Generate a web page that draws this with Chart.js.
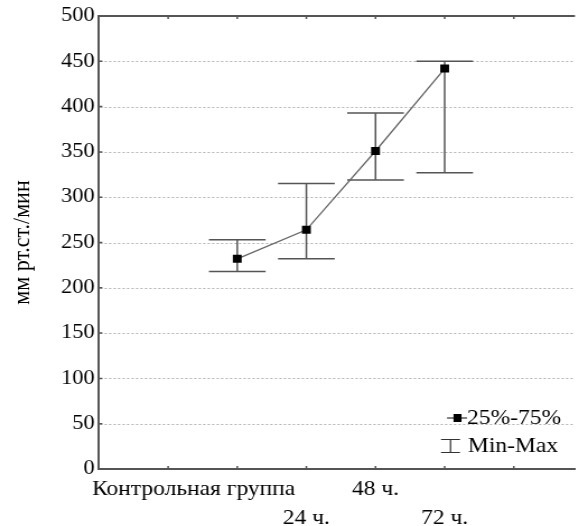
<!DOCTYPE html>
<html>
<head>
<meta charset="utf-8">
<script src="https://cdn.jsdelivr.net/npm/chart.js@4.4.1/dist/chart.umd.min.js"></script>
<style>
  html, body { margin: 0; padding: 0; background: #fff; overflow: hidden; }
  #wrap { width: 519px; height: 526px; transform: scaleX(1.12); transform-origin: 0 0; }
</style>
</head>
<body>
<div id="wrap"><canvas id="chart" width="519" height="526"></canvas></div>
<script>
// данные (медиана, минимум, максимум)
const categories = ['Контрольная группа', '24 ч.', '48 ч.', '72 ч.'];
const categoryPos = [2, 3, 4, 5];
const medians = [232, 264, 351, 442];
const minVals = [218, 232, 319, 327];
const maxVals = [253, 315, 393, 450];
const yTicks = [0, 50, 100, 150, 200, 250, 300, 350, 400, 450, 500];
const legendLabels = ['25%-75%', 'Min-Max'];

const S = 1.12; // горизонтальное растяжение исходной картинки
const FONT = '"Liberation Serif", "Times New Roman", serif';
const AXIS = '#555';

const frame = {
  id: 'frame',
  beforeDatasetsDraw(chart) {
    const { ctx, chartArea: a, scales: { x, y } } = chart;
    // пунктирная сетка
    ctx.save();
    ctx.strokeStyle = '#b4b4b4';
    ctx.lineWidth = 1;
    ctx.setLineDash([2, 2]);
    ctx.beginPath();
    yTicks.slice(1, -1).forEach(v => {
      const py = Math.round(y.getPixelForValue(v)) + 0.5;
      ctx.moveTo(a.left + 1, py); ctx.lineTo(a.right, py);
    });
    ctx.stroke();
    ctx.setLineDash([]);
    // усы min-max
    ctx.strokeStyle = '#555';
    ctx.lineWidth = 1.5;
    categoryPos.forEach((p, i) => {
      const cx = x.getPixelForValue(p);
      const l = x.getPixelForValue(p - 0.41), r = x.getPixelForValue(p + 0.41);
      const top = y.getPixelForValue(maxVals[i]), bot = y.getPixelForValue(minVals[i]);
      ctx.beginPath();
      ctx.moveTo(cx, top); ctx.lineTo(cx, bot);
      ctx.moveTo(l, top); ctx.lineTo(r, top);
      ctx.moveTo(l, bot); ctx.lineTo(r, bot);
      ctx.stroke();
    });
    ctx.restore();
  },
  afterDraw(chart) {
    const { ctx, chartArea: a, scales: { x, y } } = chart;
    ctx.save();
    // верхняя рамка и засечки внутрь
    ctx.strokeStyle = AXIS;
    ctx.lineWidth = 2;
    ctx.beginPath();
    ctx.moveTo(a.left - 1, a.top); ctx.lineTo(a.right, a.top);
    ctx.stroke();
    ctx.lineWidth = 1.5;
    ctx.beginPath();
    for (let t = 1; t <= 6; t++) {
      const px = x.getPixelForValue(t);
      ctx.moveTo(px, a.bottom); ctx.lineTo(px, a.bottom - 3);
      ctx.moveTo(px, a.top); ctx.lineTo(px, a.top + 3);
    }
    yTicks.slice(1, -1).forEach(v => {
      const py = y.getPixelForValue(v);
      ctx.moveTo(a.left, py); ctx.lineTo(a.left + 3, py);
    });
    ctx.stroke();

    // подписи категорий в два ряда
    ctx.fillStyle = '#000';
    ctx.font = '21px ' + FONT;
    ctx.textBaseline = 'middle';
    categories.forEach((c, i) => {
      const rowY = i % 2 === 0 ? 489 : 518;
      if (i === 0) {
        ctx.textAlign = 'left';
        ctx.fillText(c, a.left - 7 / S, rowY);
      } else {
        ctx.textAlign = 'center';
        ctx.fillText(c, x.getPixelForValue(categoryPos[i]), rowY);
      }
    });

    // легенда
    ctx.textAlign = 'left';
    ctx.fillText(legendLabels[0], 467 / S, 418);
    ctx.fillText(legendLabels[1], 468 / S, 446);
    ctx.strokeStyle = '#333';
    ctx.lineWidth = 1.2;
    ctx.beginPath();
    ctx.moveTo(447 / S, 418); ctx.lineTo(467 / S, 418);
    ctx.stroke();
    ctx.fillStyle = '#000';
    ctx.fillRect(453.5 / S, 414, 8 / S, 8);
    ctx.beginPath();
    ctx.moveTo(441 / S, 439.5); ctx.lineTo(460 / S, 439.5);
    ctx.moveTo(450.5 / S, 439.5); ctx.lineTo(450.5 / S, 452.5);
    ctx.moveTo(441 / S, 452.5); ctx.lineTo(460 / S, 452.5);
    ctx.stroke();
    ctx.restore();
  }
};

new Chart(document.getElementById('chart'), {
  type: 'line',
  data: {
    datasets: [{
      label: legendLabels[0],
      data: categoryPos.map((p, i) => ({ x: p, y: medians[i] })),
      borderColor: '#666',
      borderWidth: 1.3,
      pointStyle: 'rect',
      pointRadius: 5.6,
      pointBackgroundColor: '#000',
      pointBorderColor: '#000',
      pointBorderWidth: 0,
      tension: 0
    }]
  },
  options: {
    responsive: false,
    animation: false,
    events: [],
    layout: { padding: { top: 16, right: 0, bottom: 0, left: 0 } },
    plugins: { legend: { display: false }, tooltip: { enabled: false } },
    scales: {
      x: {
        type: 'linear',
        min: 0,
        max: (581 - 99) / 70,
        ticks: { display: false, stepSize: 1 },
        grid: { display: false },
        border: { display: true, color: AXIS, width: 2 },
        afterFit(scale) { scale.height = 526 - 469; }
      },
      y: {
        min: 0,
        max: 500,
        afterBuildTicks(scale) { scale.ticks = yTicks.map(v => ({ value: v })); },
        ticks: {
          color: '#000',
          padding: 4,
          font: { family: FONT, size: 20 }
        },
        grid: { display: false, drawTicks: false },
        border: { display: true, color: AXIS, width: 2 },
        title: {
          display: true,
          text: 'мм рт.ст./мин',
          color: '#000',
          font: { family: FONT, size: 22 },
          padding: { top: 7, bottom: 0 }
        },
        afterFit(scale) { scale.width = 99 / S; }
      }
    }
  },
  plugins: [frame]
});
</script>
</body>
</html>
